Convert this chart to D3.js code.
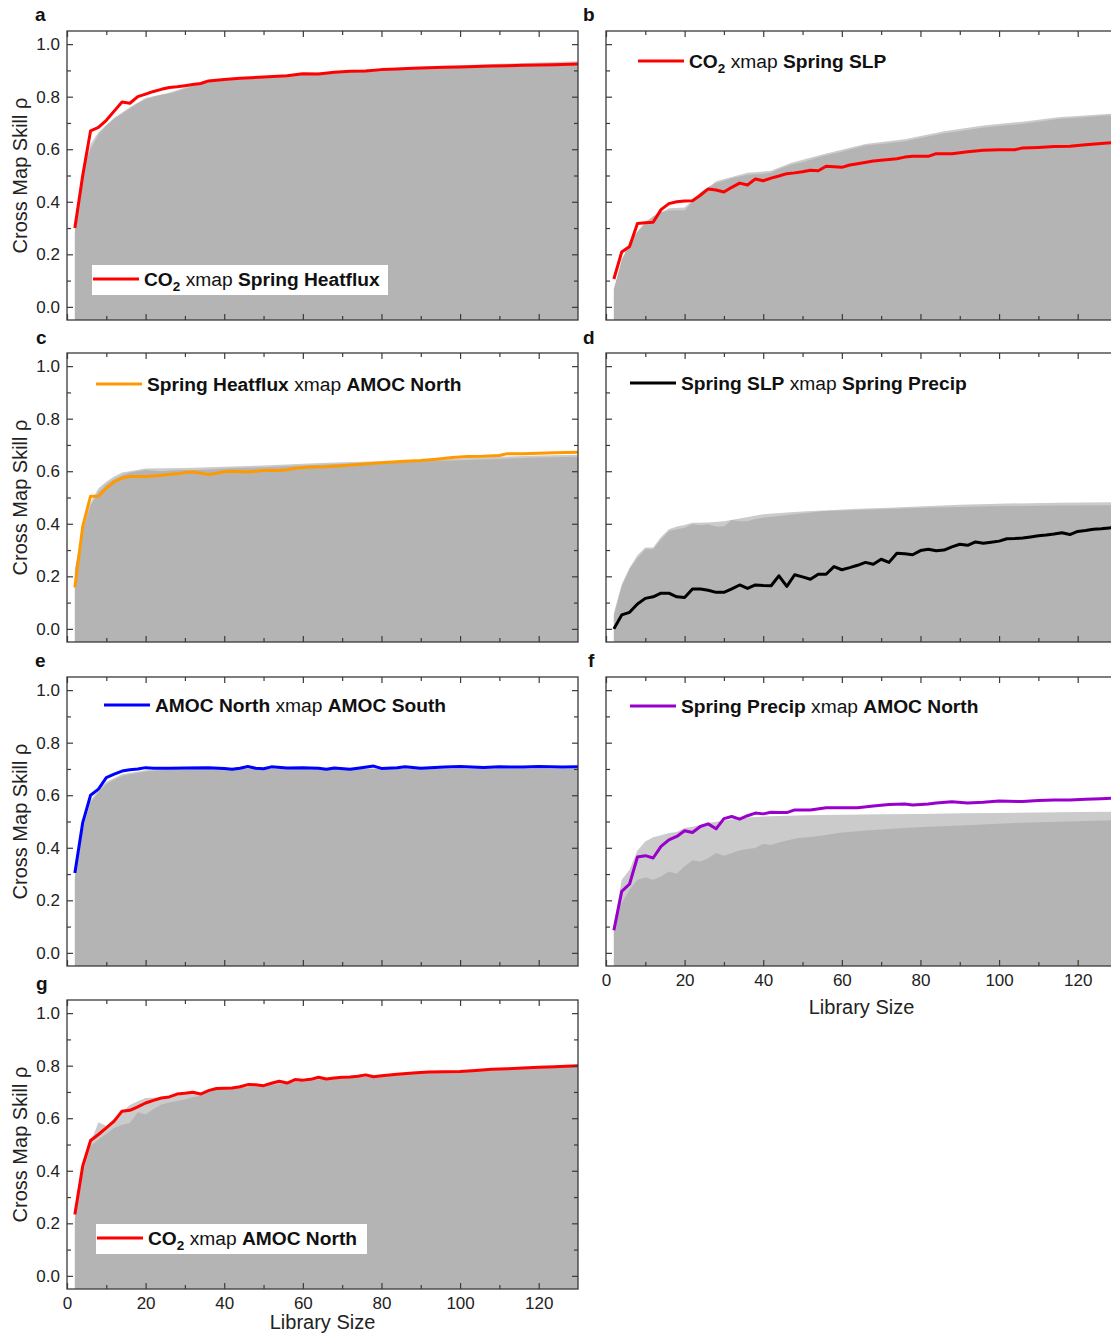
<!DOCTYPE html>
<html><head><meta charset="utf-8">
<script src="https://cdn.jsdelivr.net/npm/d3@7"></script>
<style>
body{margin:0;background:#fff}
svg{display:block}
text{font-family:"Liberation Sans",Arial,Helvetica,sans-serif;white-space:pre}
</style>
</head><body><script>
// Cross-map skill (rho) against library size, [libSize, rho] pairs.
// "light"/"dark" are the two grey surrogate envelopes, "line" is the observed curve.

// a: CO2 xmap Spring Heatflux
const lineA = [[2,0.30],[4,0.50],[6,0.67],[8,0.683],[10,0.71],[12,0.745],[14,0.78],[16,0.775],[18,0.80],[20,0.81],[22,0.82],[24,0.828],[26,0.835],[28,0.838],[30,0.842],[32,0.846],[34,0.85],[36,0.86],[40,0.865],[44,0.87],[50,0.875],[56,0.88],[60,0.887],[64,0.886],[68,0.893],[72,0.897],[76,0.898],[80,0.903],[84,0.905],[88,0.908],[92,0.91],[96,0.912],[100,0.913],[104,0.915],[108,0.917],[112,0.918],[116,0.92],[120,0.921],[124,0.922],[130,0.924]];
const darkA = [[2,0.28],[3,0.40],[4,0.50],[5,0.56],[6,0.60],[8,0.655],[10,0.69],[12,0.715],[14,0.735],[16,0.755],[18,0.775],[20,0.79],[22,0.80],[24,0.807],[27,0.815],[30,0.83],[34,0.848],[36,0.855],[40,0.862],[50,0.873],[60,0.884],[70,0.895],[80,0.903],[90,0.91],[100,0.915],[110,0.92],[120,0.924],[130,0.928]];
const lightA = [[2,0.29],[4,0.52],[6,0.62],[8,0.665],[12,0.72],[16,0.76],[20,0.795],[26,0.815],[30,0.835],[36,0.858],[50,0.876],[60,0.888],[70,0.898],[80,0.907],[90,0.914],[100,0.92],[110,0.925],[120,0.93],[130,0.935]];

// b: CO2 xmap Spring SLP
const lineB = [[2,0.106],[4,0.209],[6,0.23],[8,0.317],[10,0.32],[12,0.322],[14,0.37],[16,0.393],[18,0.40],[20,0.403],[22,0.404],[24,0.425],[26,0.449],[28,0.445],[30,0.437],[32,0.455],[34,0.471],[36,0.464],[38,0.487],[40,0.48],[42,0.49],[44,0.498],[46,0.507],[48,0.51],[50,0.514],[52,0.52],[54,0.518],[56,0.535],[58,0.533],[60,0.531],[62,0.54],[64,0.545],[68,0.555],[72,0.561],[74,0.564],[76,0.57],[78,0.573],[82,0.573],[84,0.583],[88,0.583],[92,0.59],[96,0.596],[100,0.598],[104,0.598],[106,0.605],[110,0.607],[114,0.61],[118,0.611],[122,0.617],[126,0.622],[130,0.627]];
const darkB = [[2,0.066],[4,0.18],[6,0.24],[8,0.285],[10,0.315],[12,0.345],[14,0.36],[16,0.367],[18,0.368],[20,0.367],[22,0.40],[24,0.435],[26,0.455],[28,0.471],[30,0.48],[32,0.49],[36,0.503],[40,0.507],[42,0.51],[44,0.525],[47,0.541],[50,0.55],[55,0.573],[60,0.59],[66,0.614],[70,0.62],[76,0.63],[80,0.643],[86,0.661],[90,0.668],[96,0.683],[100,0.688],[106,0.697],[110,0.705],[115,0.715],[120,0.72],[126,0.727],[130,0.73]];
const lightB = [[2,0.07],[6,0.25],[10,0.325],[16,0.375],[20,0.378],[22,0.405],[28,0.478],[36,0.51],[42,0.518],[47,0.548],[55,0.58],[66,0.62],[76,0.638],[86,0.668],[96,0.69],[106,0.705],[115,0.722],[130,0.737]];

// c: Spring Heatflux xmap AMOC North
const lineC = [[2,0.158],[4,0.39],[6,0.505],[8,0.505],[10,0.535],[12,0.56],[14,0.574],[16,0.58],[18,0.58],[20,0.58],[22,0.582],[24,0.585],[26,0.588],[28,0.59],[30,0.595],[32,0.597],[34,0.593],[36,0.587],[38,0.592],[40,0.598],[42,0.60],[46,0.597],[50,0.603],[54,0.603],[56,0.606],[58,0.611],[62,0.616],[66,0.617],[70,0.621],[74,0.626],[78,0.63],[82,0.634],[86,0.638],[90,0.641],[94,0.646],[98,0.652],[102,0.656],[106,0.657],[110,0.66],[112,0.667],[116,0.667],[120,0.668],[124,0.67],[130,0.672]];
const darkC = [[2,0.22],[4,0.37],[6,0.47],[8,0.52],[10,0.55],[12,0.57],[14,0.585],[16,0.595],[18,0.60],[20,0.605],[24,0.60],[28,0.605],[32,0.605],[36,0.607],[40,0.61],[50,0.615],[60,0.622],[70,0.628],[80,0.632],[90,0.637],[100,0.642],[110,0.647],[120,0.652],[130,0.655]];
const lightC = [[2,0.23],[4,0.385],[6,0.48],[8,0.535],[10,0.56],[12,0.58],[14,0.595],[16,0.60],[20,0.61],[30,0.612],[40,0.617],[50,0.622],[60,0.628],[70,0.634],[80,0.638],[90,0.643],[100,0.648],[110,0.655],[120,0.66],[130,0.663]];

// d: Spring SLP xmap Spring Precip
const lineD = [[2,0.0],[4,0.053],[6,0.063],[8,0.095],[10,0.116],[12,0.122],[14,0.136],[16,0.136],[18,0.122],[20,0.119],[22,0.152],[24,0.152],[26,0.147],[28,0.139],[30,0.139],[32,0.152],[34,0.167],[36,0.154],[38,0.167],[40,0.165],[42,0.164],[44,0.202],[46,0.162],[48,0.206],[50,0.198],[52,0.189],[54,0.208],[56,0.208],[58,0.237],[60,0.225],[62,0.233],[64,0.242],[66,0.253],[68,0.246],[70,0.265],[72,0.253],[74,0.288],[76,0.286],[78,0.282],[80,0.298],[82,0.303],[84,0.297],[86,0.30],[88,0.312],[90,0.322],[92,0.318],[94,0.331],[96,0.326],[98,0.33],[100,0.334],[102,0.343],[104,0.344],[106,0.346],[108,0.35],[110,0.354],[112,0.357],[114,0.361],[116,0.366],[118,0.359],[120,0.371],[122,0.374],[124,0.379],[126,0.381],[128,0.384],[130,0.386]];
const darkD = [[2,0.05],[4,0.16],[6,0.227],[8,0.27],[10,0.303],[12,0.303],[14,0.34],[16,0.372],[18,0.379],[20,0.385],[22,0.398],[24,0.394],[26,0.398],[28,0.39],[30,0.39],[32,0.414],[34,0.41],[36,0.41],[38,0.418],[40,0.423],[44,0.43],[48,0.436],[55,0.448],[64,0.452],[72,0.456],[81,0.461],[90,0.464],[98,0.467],[106,0.468],[115,0.47],[130,0.471]];
const lightD = [[2,0.06],[4,0.17],[6,0.233],[8,0.28],[10,0.31],[12,0.31],[14,0.35],[16,0.379],[18,0.39],[20,0.395],[22,0.404],[26,0.405],[30,0.41],[34,0.42],[40,0.436],[46,0.443],[51,0.448],[58,0.452],[64,0.457],[72,0.461],[81,0.467],[90,0.472],[102,0.477],[115,0.48],[130,0.482]];

// e: AMOC North xmap AMOC South
const lineE = [[2,0.304],[4,0.496],[6,0.60],[8,0.623],[10,0.667],[12,0.68],[14,0.692],[16,0.697],[18,0.70],[20,0.705],[22,0.703],[26,0.703],[30,0.704],[36,0.705],[40,0.702],[42,0.699],[44,0.703],[46,0.709],[48,0.703],[50,0.701],[52,0.708],[56,0.704],[60,0.705],[64,0.703],[66,0.699],[68,0.704],[72,0.699],[74,0.703],[78,0.711],[80,0.702],[84,0.705],[86,0.708],[90,0.703],[96,0.707],[100,0.709],[106,0.706],[110,0.708],[116,0.707],[120,0.709],[126,0.707],[130,0.708]];
const darkE = [[2,0.28],[4,0.47],[6,0.572],[8,0.61],[10,0.642],[12,0.66],[14,0.673],[16,0.68],[18,0.685],[20,0.69],[24,0.696],[28,0.699],[40,0.70],[60,0.70],[80,0.70],[100,0.70],[130,0.70]];
const lightE = [[2,0.29],[4,0.48],[6,0.58],[8,0.62],[10,0.65],[14,0.68],[20,0.695],[28,0.702],[130,0.703]];

// f: Spring Precip xmap AMOC North
const lineF = [[2,0.086],[4,0.234],[6,0.262],[8,0.365],[10,0.37],[12,0.361],[14,0.405],[16,0.43],[18,0.443],[20,0.465],[22,0.458],[24,0.481],[26,0.491],[28,0.472],[30,0.511],[32,0.519],[34,0.509],[36,0.522],[38,0.532],[40,0.529],[42,0.535],[44,0.534],[46,0.534],[48,0.544],[52,0.544],[56,0.552],[60,0.552],[64,0.552],[68,0.559],[72,0.565],[76,0.567],[78,0.563],[82,0.567],[84,0.57],[88,0.575],[92,0.57],[96,0.573],[100,0.578],[106,0.576],[110,0.58],[114,0.582],[118,0.582],[122,0.585],[126,0.587],[130,0.589]];
const darkF = [[2,0.10],[4,0.19],[6,0.24],[8,0.278],[10,0.287],[12,0.278],[14,0.291],[16,0.31],[18,0.301],[20,0.33],[22,0.352],[24,0.348],[26,0.36],[28,0.38],[30,0.37],[32,0.38],[34,0.39],[36,0.395],[38,0.399],[40,0.415],[42,0.411],[44,0.42],[46,0.428],[49,0.437],[52,0.441],[55,0.447],[60,0.458],[64,0.463],[68,0.468],[76,0.475],[82,0.48],[89,0.484],[97,0.49],[104,0.494],[110,0.497],[120,0.501],[130,0.505]];
const lightF = [[2,0.10],[4,0.278],[6,0.316],[8,0.39],[10,0.424],[12,0.44],[14,0.448],[16,0.456],[18,0.46],[20,0.475],[22,0.48],[26,0.494],[30,0.504],[34,0.513],[40,0.519],[46,0.522],[51,0.524],[60,0.526],[70,0.528],[80,0.529],[90,0.531],[100,0.532],[110,0.534],[120,0.536],[130,0.537]];

// g: CO2 xmap AMOC North
const lineG = [[2,0.234],[4,0.418],[6,0.515],[8,0.538],[10,0.563],[12,0.589],[14,0.627],[16,0.63],[18,0.643],[20,0.658],[22,0.668],[24,0.677],[26,0.681],[28,0.692],[30,0.695],[32,0.699],[34,0.692],[36,0.705],[38,0.713],[40,0.714],[42,0.715],[44,0.72],[46,0.728],[48,0.727],[50,0.724],[52,0.733],[54,0.741],[56,0.734],[58,0.747],[60,0.745],[62,0.748],[64,0.756],[66,0.749],[68,0.753],[70,0.756],[72,0.757],[74,0.76],[76,0.765],[78,0.758],[80,0.762],[84,0.767],[88,0.772],[92,0.776],[96,0.777],[100,0.778],[104,0.782],[108,0.786],[112,0.788],[116,0.791],[120,0.794],[124,0.796],[130,0.80]];
const darkG = [[2,0.215],[4,0.39],[6,0.494],[8,0.519],[10,0.54],[12,0.563],[14,0.575],[16,0.582],[18,0.623],[20,0.614],[22,0.635],[24,0.652],[26,0.66],[28,0.666],[30,0.671],[32,0.68],[34,0.686],[36,0.697],[38,0.709],[40,0.712],[50,0.722],[60,0.742],[70,0.754],[80,0.76],[90,0.772],[100,0.776],[110,0.785],[120,0.792],[130,0.798]];
const lightG = [[2,0.225],[4,0.405],[6,0.506],[8,0.585],[10,0.57],[12,0.60],[14,0.623],[16,0.65],[18,0.665],[20,0.677],[24,0.68],[30,0.69],[36,0.703],[40,0.714],[50,0.726],[60,0.746],[70,0.758],[80,0.764],[90,0.776],[100,0.78],[110,0.789],[120,0.796],[130,0.802]];

// Axis ticks
const xMajor = [0,20,40,60,80,100,120];
const xMinor = [10,30,50,70,90,110];
const yMajor = [0,0.2,0.4,0.6,0.8,1.0];
const yMinor = [0.1,0.3,0.5,0.7,0.9];
const xDomain = [0,130];
const yDomain = [-0.05,1.05];

// Legend labels: [text, bold, subscript]
const legA = [["CO",1],["2",1,1],[" xmap ",0],["Spring Heatflux",1]];
const legB = [["CO",1],["2",1,1],[" xmap ",0],["Spring SLP",1]];
const legC = [["Spring Heatflux",1],[" xmap ",0],["AMOC North",1]];
const legD = [["Spring SLP",1],[" xmap ",0],["Spring Precip",1]];
const legE = [["AMOC North",1],[" xmap ",0],["AMOC South",1]];
const legF = [["Spring Precip",1],[" xmap ",0],["AMOC North",1]];
const legG = [["CO",1],["2",1,1],[" xmap ",0],["AMOC North",1]];

const W = 1111, H = 1333;
const svg = d3.select("body").append("svg").attr("width", W).attr("height", H);

const L = {x0:67, x1:578}, R = {x0:606, x1:1117};
const rows = [31, 353, 677, 1000];
const PH = 289;

const panels = [
  {k:"a", col:L, top:rows[0], line:lineA, dark:darkA, light:lightA, color:"#ff0000", leg:legA, lx:93, ly:279, box:[92,265,296,30], yl:true, xl:false, lab:[35,21]},
  {k:"b", col:R, top:rows[0], line:lineB, dark:darkB, light:lightB, color:"#ff0000", leg:legB, lx:638, ly:61, yl:false, xl:false, lab:[583,21]},
  {k:"c", col:L, top:rows[1], line:lineC, dark:darkC, light:lightC, color:"#ff9900", leg:legC, lx:96, ly:384, yl:true, xl:false, lab:[36,344]},
  {k:"d", col:R, top:rows[1], line:lineD, dark:darkD, light:lightD, color:"#000000", leg:legD, lx:630, ly:383, yl:false, xl:false, lab:[583,344]},
  {k:"e", col:L, top:rows[2], line:lineE, dark:darkE, light:lightE, color:"#0000ff", leg:legE, lx:104, ly:705, yl:true, xl:false, lab:[35,667]},
  {k:"f", col:R, top:rows[2], line:lineF, dark:darkF, light:lightF, color:"#9900cc", leg:legF, lx:630, ly:706, yl:false, xl:true, xt:48, lab:[588,667]},
  {k:"g", col:L, top:rows[3], line:lineG, dark:darkG, light:lightG, color:"#ff0000", leg:legG, lx:97, ly:1238, box:[96,1224,271,30], yl:true, xl:true, xt:40, lab:[36,990]}
];

const FONT = 17;

panels.forEach(p => {
  const x = d3.scaleLinear().domain(xDomain).range([p.col.x0, p.col.x1]);
  const y = d3.scaleLinear().domain(yDomain).range([p.top + PH, p.top]);
  const g = svg.append("g");

  const clipId = "clip-" + p.k;
  svg.append("clipPath").attr("id", clipId).append("rect")
    .attr("x", p.col.x0).attr("y", p.top).attr("width", p.col.x1 - p.col.x0).attr("height", PH);

  const plot = g.append("g").attr("clip-path", `url(#${clipId})`);
  const area = d3.area().x(d => x(d[0])).y0(y(yDomain[0])).y1(d => y(d[1]));
  plot.append("path").datum(p.light).attr("d", area).attr("fill", "#cbcbcb");
  plot.append("path").datum(p.dark).attr("d", area).attr("fill", "#b4b4b4");
  const ln = d3.line().x(d => x(d[0])).y(d => y(d[1]));
  plot.append("path").datum(p.line).attr("d", ln).attr("fill", "none")
    .attr("stroke", p.color).attr("stroke-width", 3).attr("stroke-linejoin", "round");

  // inward ticks on all four sides
  const axes = [
    [d3.axisLeft(y).tickValues(yMajor).tickSize(-6).tickPadding(7).tickFormat(p.yl ? d3.format(".1f") : () => ""), `translate(${p.col.x0},0)`],
    [d3.axisLeft(y).tickValues(yMinor).tickSize(-4).tickFormat(() => ""), `translate(${p.col.x0},0)`],
    [d3.axisRight(y).tickValues(yMajor).tickSize(-6).tickFormat(() => ""), `translate(${p.col.x1},0)`],
    [d3.axisRight(y).tickValues(yMinor).tickSize(-4).tickFormat(() => ""), `translate(${p.col.x1},0)`],
    [d3.axisBottom(x).tickValues(xMajor).tickSize(-6).tickPadding(8).tickFormat(p.xl ? d3.format("d") : () => ""), `translate(0,${p.top + PH})`],
    [d3.axisBottom(x).tickValues(xMinor).tickSize(-4).tickFormat(() => ""), `translate(0,${p.top + PH})`],
    [d3.axisTop(x).tickValues(xMajor).tickSize(-6).tickFormat(() => ""), `translate(0,${p.top})`],
    [d3.axisTop(x).tickValues(xMinor).tickSize(-4).tickFormat(() => ""), `translate(0,${p.top})`]
  ];
  axes.forEach(([ax, tr]) => {
    const a = g.append("g").attr("transform", tr).call(ax);
    a.select(".domain").remove();
    a.selectAll("line").attr("stroke", "#3a3a3a").attr("stroke-width", 1.2);
    a.selectAll("text").attr("font-size", FONT).attr("fill", "#222")
      .attr("font-family", "'Liberation Sans',Arial,sans-serif");
  });

  g.append("rect").attr("x", p.col.x0).attr("y", p.top)
    .attr("width", p.col.x1 - p.col.x0).attr("height", PH)
    .attr("fill", "none").attr("stroke", "#3a3a3a").attr("stroke-width", 1.3);

  // legend
  if (p.box) {
    g.append("rect").attr("x", p.box[0]).attr("y", p.box[1]).attr("width", p.box[2]).attr("height", p.box[3]).attr("fill", "#fff");
  }
  g.append("line").attr("x1", p.lx).attr("x2", p.lx + 46).attr("y1", p.ly).attr("y2", p.ly)
    .attr("stroke", p.color).attr("stroke-width", 3);
  const t = g.append("text").attr("x", p.lx + 51).attr("y", p.ly + 6.5).attr("font-size", 19.2).attr("fill", "#111");
  let sub = false;
  p.leg.forEach(([s, b, isSub]) => {
    const ts = t.append("tspan").text(s).attr("font-weight", b ? "bold" : "normal");
    if (isSub) { ts.attr("font-size", 13.5).attr("dy", 5); sub = true; }
    else if (sub) { ts.attr("dy", -5); sub = false; }
  });

  // panel letter
  svg.append("text").attr("x", p.lab[0]).attr("y", p.lab[1]).attr("font-size", 19)
    .attr("font-weight", "bold").attr("fill", "#111").text(p.k);

  // axis titles
  if (p.yl) {
    svg.append("text").attr("transform", `translate(27,${p.top + PH / 2}) rotate(-90)`)
      .attr("text-anchor", "middle").attr("font-size", 20).attr("fill", "#222").text("Cross Map Skill ρ");
  }
  if (p.xl) {
    svg.append("text").attr("x", (p.col.x0 + p.col.x1) / 2).attr("y", p.top + PH + p.xt)
      .attr("text-anchor", "middle").attr("font-size", 20).attr("fill", "#222").text("Library Size");
  }
});
</script></body></html>
